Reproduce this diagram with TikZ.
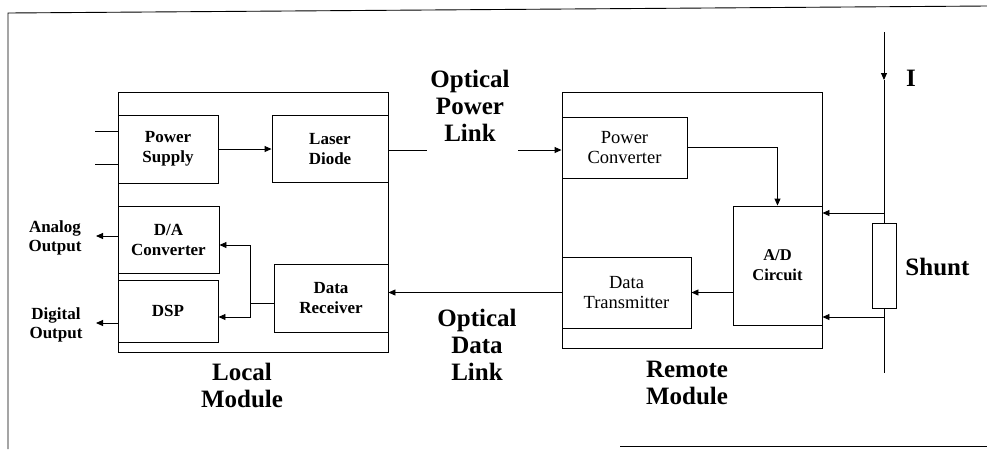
\documentclass[tikz,border=0pt]{standalone}
\usepackage{fontspec}
\setmainfont{Liberation Serif}
\usetikzlibrary{arrows.meta,positioning,calc}

\begin{document}
\begin{tikzpicture}[x=1pt,y=-1pt,
      line width=0.9pt,
      blk/.style={draw,line width=0.9pt,inner sep=0pt,align=center,
                  font=\fontsize{17}{20}\selectfont\bfseries},
      rblk/.style={blk,font=\fontsize{18.5}{20}\selectfont},
      big/.style={align=center,inner sep=0pt,font=\fontsize{25}{27}\selectfont\bfseries},
      lbl/.style={align=center,inner sep=0pt,font=\fontsize{17}{19}\selectfont\bfseries},
      fl/.style={-{Triangle[length=7pt,width=6pt]},line width=0.9pt}]
    \useasboundingbox (0,0) rectangle (987,451);
    % frame
    \draw (8,449) -- (8,13) -- (987,6);
    \draw (620,446) -- (987,446);
    % modules
    \node[draw,minimum width=270pt,minimum height=260pt,inner sep=0pt] (local) at (253,222) {};
    \node[draw,minimum width=260pt,minimum height=256pt,inner sep=0pt] (remote) at (692,220) {};
    % local blocks
    \node[blk,minimum width=100pt,minimum height=68pt] (psu) at (168,149) {Power\\Supply};
    \node[blk,minimum width=116pt,minimum height=67pt] (laser) at (330,149) {Laser\\Diode};
    \node[blk,minimum width=101pt,minimum height=67pt] (dac) at (168.5,239.5) {D/A\\Converter};
    \node[blk,minimum width=100pt,minimum height=62pt] (dsp) at (168,311) {DSP};
    \node[blk,minimum width=114pt,minimum height=68pt] (rx) at (331,298) {Data\\Receiver};
    % remote blocks
    \node[rblk,minimum width=125pt,minimum height=61pt] (pconv) at (624.5,147.5) {Power\\Converter};
    \node[blk,minimum width=89pt,minimum height=119pt,
          font=\fontsize{16.5}{20}\selectfont\bfseries] (adc) at (777.5,265.5) {A/D\\Circuit};
    \node[rblk,minimum width=129pt,minimum height=71pt] (tx) at (626.5,292.5) {Data\\Transmitter};
    \node[draw,minimum width=24pt,minimum height=85pt,inner sep=0pt] (shunt) at (884,265.5) {};
    % labels
    \node[big] (oplink) at (470,106) {Optical\\Power\\Link};
    \node[big] (odlink) at (477,345) {Optical\\Data\\Link};
    \node[big] (loclbl) at (242,385) {Local\\Module};
    \node[big] (remlbl) at (687,383) {Remote\\Module};
    \node[big,anchor=west] (shlbl) at (905,267) {Shunt};
    \node[big] (ilbl) at (911,78) {I};
    \node[lbl] (aolbl) at (55,238) {Analog\\Output};
    \node[lbl] (dolbl) at (56,325) {Digital\\Output};
    % coordinates
    \coordinate (in1) at (95,131);
    \coordinate (in2) at (95,164);
    \coordinate (aout) at (96,236);
    \coordinate (dout) at (96,323);
    \coordinate (split) at (250,303);
    \coordinate (plA) at (427,150);
    \coordinate (plB) at (518,150);
    \coordinate (itop) at (884,32);
    \coordinate (iarr) at (884,80);
    \coordinate (ibot) at (884,373);
    \coordinate (tapT) at (884,213);
    \coordinate (tapB) at (884,317);
    % local connectors
    \draw (in1) -- (in1 -| psu.west);
    \draw (in2) -- (in2 -| psu.west);
    \draw[fl] (psu.east) -- (psu.east -| laser.west);
    \draw[fl] (dac.west |- aout) -- (aout);
    \draw[fl] (dsp.west |- dout) -- (dout);
    \draw (rx.west |- split) -- (split);
    \draw[fl] (split) |- ([yshift=-5.5pt]dac.east);
    \draw[fl] (split) |- ([yshift=-6pt]dsp.east);
    % optical links
    \draw (laser.east |- plA) -- (plA);
    \draw[fl] (plB) -- (plB -| pconv.west);
    \draw[fl] (tx.west) -- (tx.west -| local.east);
    % remote connectors
    \draw[fl] (pconv.east) -| (adc.north);
    \draw[fl] (tx.east -| adc.west) -- (tx.east);
    % shunt
    \draw[fl] (itop) -- (iarr);
    \draw (iarr) -- (shunt.north);
    \draw (shunt.south) -- (ibot);
    \draw[fl] (tapT) -- (tapT -| adc.east);
    \draw[fl] (tapB) -- (tapB -| adc.east);
  \end{tikzpicture}
\end{document}
